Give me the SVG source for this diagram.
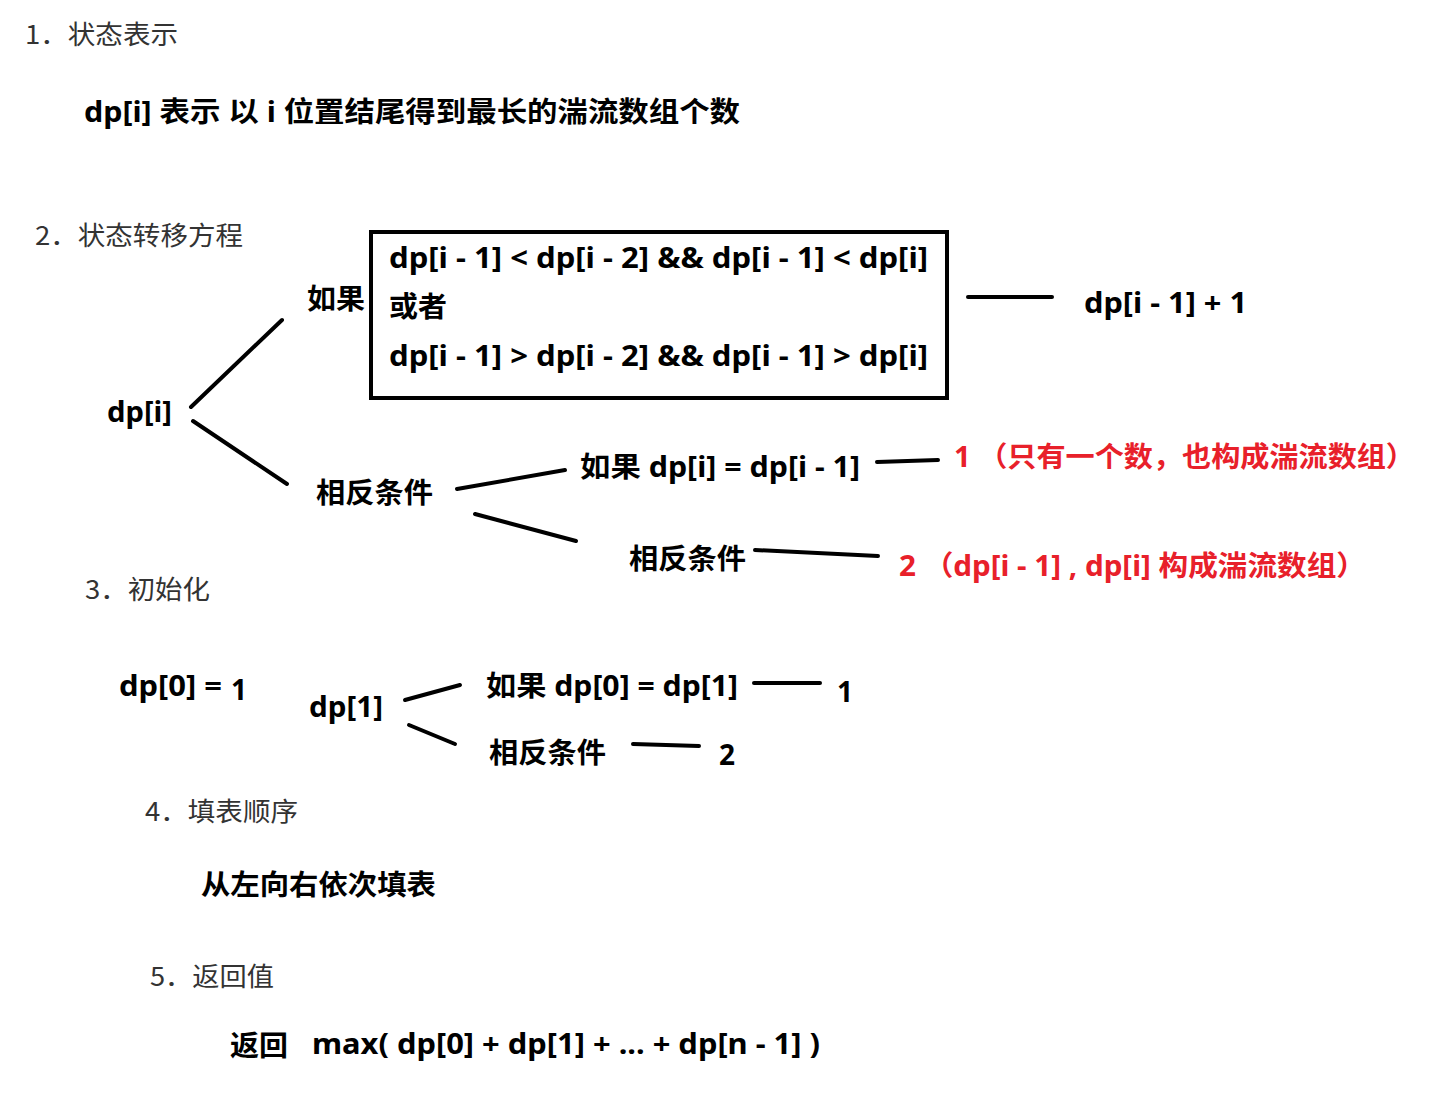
<svg xmlns="http://www.w3.org/2000/svg" width="1430" height="1108" viewBox="0 0 1430 1108">
<style>
.h{font-family:"Noto Sans CJK SC","Noto Sans",sans-serif;font-size:26px;fill:#333;}
.b{font-family:"Noto Sans","Noto Sans CJK SC",sans-serif;font-size:28px;font-weight:bold;fill:#000;}
.r{fill:#e8202a;}
.ln{stroke:#000;stroke-width:4;stroke-linecap:round;fill:none;}
</style>
<rect width="1430" height="1108" fill="#fff"/>
<g id="section1">
<text class="h" x="25" y="44" textLength="153" lengthAdjust="spacingAndGlyphs">1．状态表示</text>
<text class="b" x="84" y="122" textLength="656" lengthAdjust="spacingAndGlyphs">dp[i] 表示 以 i 位置结尾得到最长的湍流数组个数</text>
</g>
<g id="section2">
<text class="h" x="35" y="245" textLength="208" lengthAdjust="spacingAndGlyphs">2．状态转移方程</text>
</g>
<g id="node-dpi"><text class="b" x="107" y="422" textLength="65" lengthAdjust="spacingAndGlyphs">dp[i]</text></g>
<g id="node-ruguo"><text class="b" x="307" y="309" textLength="58" lengthAdjust="spacingAndGlyphs">如果</text></g>
<g id="node-box">
<rect x="371" y="232" width="576" height="166" fill="none" stroke="#000" stroke-width="4"/>
<text class="b" x="389" y="268" textLength="539" lengthAdjust="spacingAndGlyphs">dp[i - 1] &lt; dp[i - 2] &amp;&amp; dp[i - 1] &lt; dp[i]</text>
<text class="b" x="389" y="317" textLength="58" lengthAdjust="spacingAndGlyphs">或者</text>
<text class="b" x="389" y="366" textLength="539" lengthAdjust="spacingAndGlyphs">dp[i - 1] &gt; dp[i - 2] &amp;&amp; dp[i - 1] &gt; dp[i]</text>
</g>
<g id="node-result1"><text class="b" x="1084" y="313" textLength="163" lengthAdjust="spacingAndGlyphs">dp[i - 1] + 1</text></g>
<g id="node-xiangfan1"><text class="b" x="316" y="503" textLength="117" lengthAdjust="spacingAndGlyphs">相反条件</text></g>
<g id="node-ruguo-eq"><text class="b" x="580" y="477" textLength="280" lengthAdjust="spacingAndGlyphs">如果 dp[i] = dp[i - 1]</text></g>
<g id="node-red1"><text class="b r" x="954" y="467" textLength="461" lengthAdjust="spacingAndGlyphs">1 （只有一个数，也构成湍流数组）</text></g>
<g id="node-xiangfan2"><text class="b" x="629" y="569" textLength="117" lengthAdjust="spacingAndGlyphs">相反条件</text></g>
<g id="node-red2"><text class="b r" x="899" y="576" textLength="467" lengthAdjust="spacingAndGlyphs">2 （dp[i - 1] , dp[i] 构成湍流数组）</text></g>
<g id="section3">
<text class="h" x="85" y="599" textLength="125" lengthAdjust="spacingAndGlyphs">3．初始化</text>
</g>
<g id="node-dp0"><text class="b" x="119" y="696" textLength="103" lengthAdjust="spacingAndGlyphs">dp[0] =</text><text class="b" x="231" y="700">1</text></g>
<g id="node-dp1"><text class="b" x="309" y="717" textLength="74" lengthAdjust="spacingAndGlyphs">dp[1]</text></g>
<g id="node-ruguo-init"><text class="b" x="486" y="696" textLength="252" lengthAdjust="spacingAndGlyphs">如果 dp[0] = dp[1]</text></g>
<g id="node-one"><text class="b" x="837" y="702">1</text></g>
<g id="node-xiangfan3"><text class="b" x="489" y="763" textLength="117" lengthAdjust="spacingAndGlyphs">相反条件</text></g>
<g id="node-two"><text class="b" x="719" y="765">2</text></g>
<g id="section4">
<text class="h" x="145" y="821" textLength="153" lengthAdjust="spacingAndGlyphs">4．填表顺序</text>
<text class="b" x="201" y="895" textLength="235" lengthAdjust="spacingAndGlyphs">从左向右依次填表</text>
</g>
<g id="section5">
<text class="h" x="150" y="986" textLength="124" lengthAdjust="spacingAndGlyphs">5．返回值</text>
<text class="b" x="230" y="1056" textLength="58" lengthAdjust="spacingAndGlyphs">返回</text>
<text class="b" x="312" y="1054" textLength="508" lengthAdjust="spacingAndGlyphs">max( dp[0] + dp[1] + ... + dp[n - 1] )</text>
</g>
<g id="connectors">
<line class="ln" x1="191" y1="407" x2="282" y2="320"/>
<line class="ln" x1="193" y1="421" x2="287" y2="484"/>
<line class="ln" x1="968" y1="297" x2="1052" y2="297"/>
<line class="ln" x1="457" y1="489" x2="565" y2="470"/>
<line class="ln" x1="475" y1="514" x2="576" y2="541"/>
<line class="ln" x1="877" y1="462" x2="938" y2="460"/>
<line class="ln" x1="755" y1="550" x2="878" y2="556"/>
<line class="ln" x1="405" y1="700" x2="460" y2="685"/>
<line class="ln" x1="409" y1="725" x2="455" y2="744"/>
<line class="ln" x1="754" y1="683" x2="820" y2="683"/>
<line class="ln" x1="633" y1="744" x2="699" y2="746"/>
</g>
</svg>
